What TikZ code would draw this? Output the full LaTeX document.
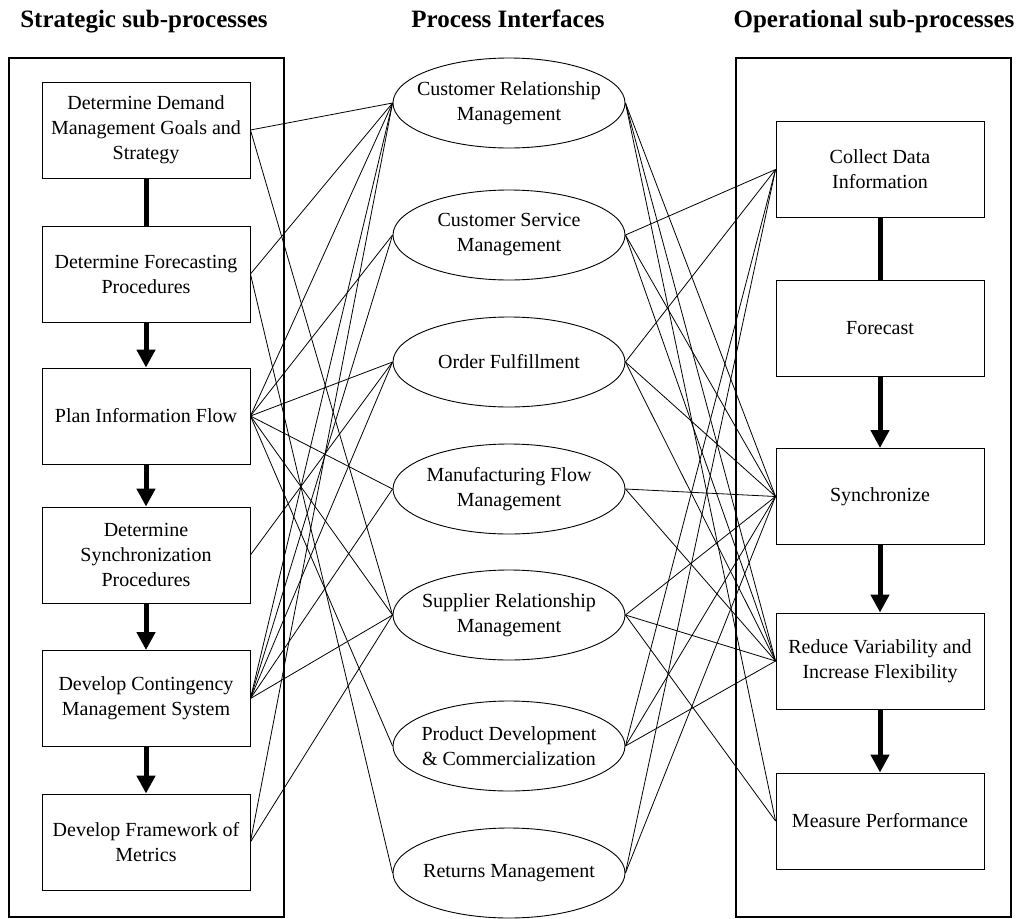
\documentclass[tikz,border=0pt]{standalone}
\usepackage{fontspec}
\setmainfont{Liberation Serif}
\usetikzlibrary{arrows.meta,shapes.geometric}
\begin{document}
\begin{tikzpicture}[x=1pt,y=-1pt,
  txt/.style={font=\fontsize{20}{25}\selectfont, align=center},
  sbox/.style={draw, line width=0.9pt, fill=white, minimum width=208pt, minimum height=96pt, inner sep=0pt, txt},
  ifc/.style={draw, ellipse, line width=0.9pt, minimum width=232pt, minimum height=90pt, inner sep=0pt},
  itxt/.style={txt, inner sep=0pt},
  frame/.style={draw, line width=2.5pt, minimum width=275pt, minimum height=859pt, inner sep=0pt},
  head/.style={font=\fontsize{25}{28}\bfseries\selectfont, anchor=base},
  conn/.style={line width=0.8pt},
  flow/.style={line width=5pt, -{Triangle[length=18pt,width=18pt]}},
  link/.style={line width=5pt}
]
\useasboundingbox (0,0) rectangle (1021,919);

% headings
\node[head] (h1) at (144,27) {Strategic sub-processes};
\node[head] (h2) at (508,27) {Process Interfaces};
\node[head] (h3) at (874,27) {Operational sub-processes};

% frames
\node[frame] (lframe) at (146.5,487.5) {};
\node[frame] (rframe) at (873.5,487.5) {};

% strategic sub-processes
\node[sbox] (L1) at (146,130) {Determine Demand\\Management Goals and\\Strategy};
\node[sbox] (L2) at (146,274) {Determine Forecasting\\Procedures};
\node[sbox] (L3) at (146,416) {Plan Information Flow};
\node[sbox] (L4) at (146,555) {Determine\\Synchronization\\Procedures};
\node[sbox] (L5) at (146,698.5) {Develop Contingency\\Management System};
\node[sbox] (L6) at (146,842) {Develop Framework of\\Metrics};

% process interfaces
\node[ifc] (E1) at (509,103) {};
\node[ifc] (E2) at (509,235) {};
\node[ifc] (E3) at (509,362) {};
\node[ifc] (E4) at (509,489) {};
\node[ifc] (E5) at (509,615) {};
\node[ifc] (E6) at (509,746) {};
\node[ifc] (E7) at (509,873) {};
\node[itxt] (T1) at (E1) {Customer Relationship\\Management};
\node[itxt] (T2) at (E2) {Customer Service\\Management};
\node[itxt] (T3) at (E3) {Order Fulfillment};
\node[itxt] (T4) at (E4) {Manufacturing Flow\\Management};
\node[itxt] (T5) at (E5) {Supplier Relationship\\Management};
\node[itxt] (T6) at (E6) {Product Development\\\& Commercialization};
\node[itxt] (T7) at (E7) {Returns Management};

% operational sub-processes
\node[sbox] (R1) at (880,169.5) {Collect Data\\Information};
\node[sbox] (R2) at (880,328) {Forecast};
\node[sbox] (R3) at (880,496.5) {Synchronize};
\node[sbox] (R4) at (880,661) {Reduce Variability and\\Increase Flexibility};
\node[sbox] (R5) at (880,821) {Measure Performance};

% vertical flows
\draw[link] (L1.south) -- (L2.north);
\draw[flow] (L2.south) -- (L3.north);
\draw[flow] (L3.south) -- (L4.north);
\draw[flow] (L4.south) -- (L5.north);
\draw[flow] (L5.south) -- (L6.north);
\draw[link] (R1.south) -- (R2.north);
\draw[flow] (R2.south) -- (R3.north);
\draw[flow] (R3.south) -- (R4.north);
\draw[flow] (R4.south) -- (R5.north);

% left connectors
\foreach \a/\b in {L1/E1,L1/E5,L2/E1,L2/E7,L3/E1,L3/E2,L3/E3,L3/E4,L3/E5,L3/E6,L4/E3,L5/E1,L5/E2,L5/E3,L5/E4,L5/E5,L6/E1,L6/E5}
  \draw[conn] (\a.east) -- (\b.west);

% right connectors
\foreach \a/\b in {E1/R3,E1/R4,E1/R5,E2/R1,E2/R3,E2/R4,E3/R1,E3/R3,E3/R4,E4/R3,E4/R4,E5/R3,E5/R4,E5/R5,E6/R1,E6/R3,E6/R4,E7/R1,E7/R3}
  \draw[conn] (\a.east) -- (\b.west);
\end{tikzpicture}
\end{document}
